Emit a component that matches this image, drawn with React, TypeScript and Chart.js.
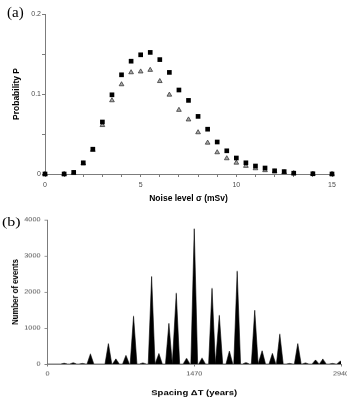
import React, { useEffect, useRef } from 'react';
import { Chart, registerables } from 'chart.js';

Chart.register(...registerables);

// Panel (a): probability of each noise level, two estimates
const noiseLevels = [0, 1, 1.5, 2, 2.5, 3, 3.5, 4, 4.5, 5, 5.5, 6, 6.5, 7, 7.5, 8, 8.5, 9, 9.5, 10, 10.5, 11, 11.5, 12, 12.5, 13, 14, 15];
const probSquares = [0, 0, 0.002, 0.014, 0.031, 0.065, 0.099, 0.124, 0.141, 0.149, 0.152, 0.143, 0.127, 0.105, 0.092, 0.072, 0.056, 0.04, 0.029, 0.02, 0.014, 0.01, 0.0075, 0.004, 0.003, 0.001, 0.0003, 0];
const probTriangles = [0, 0, 0.001, 0.013, 0.03, 0.061, 0.092, 0.112, 0.127, 0.128, 0.13, 0.116, 0.099, 0.08, 0.068, 0.052, 0.039, 0.027, 0.0195, 0.014, 0.01, 0.007, 0.0046, 0.003, 0.002, 0.001, 0.0002, 0];

// Panel (b): event-count spikes over the spacing ΔT
const peakSpacing = [167, 258, 350, 430, 610, 685, 786, 862, 955, 1043, 1116, 1216, 1290, 1393, 1470, 1548, 1648, 1721, 1822, 1900, 1988, 2076, 2150, 2253, 2327, 2425, 2507, 2584, 2685, 2758, 2855, 2933];
const peakEvents = [20, 35, 15, 280, 570, 140, 240, 1330, 30, 2430, 290, 1130, 1970, 160, 3760, 165, 2105, 1355, 360, 2580, 40, 1495, 370, 296, 833, 15, 570, 30, 115, 139, 15, 83];
const spikeHalfWidth = 34; // years either side of a peak where the count returns to zero

const spacingMax = 2940;
const spacingTicks = [0, 1470, 2940];

const sans = '"Liberation Sans", Arial, Helvetica, sans-serif';
const axisGray = '#7c7c7c';
const labelGray = '#4a4a4a';

function spikeOutline() {
  const pts: { x: number; y: number }[] = [{ x: 0, y: 0 }];
  peakSpacing.forEach((c, i) => {
    pts.push({ x: c - spikeHalfWidth, y: 0 });
    pts.push({ x: c, y: peakEvents[i] });
    pts.push({ x: c + spikeHalfWidth, y: 0 });
  });
  pts.push({ x: spacingMax, y: 0 });
  return pts;
}

function topConfig(): any {
  return {
    type: 'scatter',
    data: {
      datasets: [
        {
          label: 'squares',
          data: noiseLevels.map((x, i) => ({ x, y: probSquares[i] })),
          pointStyle: 'rect',
          pointRadius: 3.3,
          backgroundColor: '#000',
          borderColor: '#000',
          borderWidth: 0,
          clip: false,
          order: 0,
        },
        {
          label: 'triangles',
          data: noiseLevels.map((x, i) => ({ x, y: probTriangles[i] })),
          pointStyle: 'triangle',
          pointRadius: 2.7,
          backgroundColor: '#a8a8a8',
          borderColor: '#3a3a3a',
          borderWidth: 0.8,
          clip: false,
          order: 1,
        },
      ],
    },
    options: {
      animation: false,
      responsive: false,
      events: [],
      layout: { padding: { left: 0, top: 14, right: 15, bottom: 0 } },
      plugins: { legend: { display: false }, tooltip: { enabled: false } },
      scales: {
        x: {
          type: 'linear',
          min: 0,
          max: 15,
          afterFit: (s: any) => { s.height = 31; },
          ticks: {
            stepSize: 1,
            autoSkip: false,
            maxRotation: 0,
            padding: 4,
            color: labelGray,
            font: { family: sans, size: 7 },
            callback: (v: number) => (v % 5 === 0 ? String(v) : ''),
          },
          grid: { drawOnChartArea: false, tickLength: 3, color: axisGray },
          border: { color: axisGray, width: 1 },
          title: {
            display: true,
            text: 'Noise level σ (mSv)',
            color: '#000',
            font: { family: sans, size: 8.5, weight: 'bold' },
            padding: { top: 0, bottom: 1.6 },
          },
        },
        y: {
          type: 'linear',
          min: 0,
          max: 0.2,
          afterFit: (s: any) => { s.width = 45; },
          ticks: {
            stepSize: 0.05,
            autoSkip: false,
            padding: 1,
            color: labelGray,
            font: { family: sans, size: 7 },
            callback: (v: number) => {
              const r = Math.round(v * 100);
              return r % 10 === 0 ? String(r / 100) : '';
            },
          },
          grid: { drawOnChartArea: false, tickLength: 3, color: axisGray },
          border: { color: axisGray, width: 1 },
          title: {
            display: true,
            text: 'Probability P',
            color: '#000',
            font: { family: sans, size: 8.5, weight: 'bold' },
            padding: { top: 12, bottom: 0 },
          },
        },
      },
    },
  };
}

function bottomConfig(): any {
  return {
    type: 'scatter',
    data: {
      datasets: [
        {
          label: 'events',
          data: spikeOutline(),
          showLine: true,
          fill: 'origin',
          backgroundColor: '#000',
          borderColor: '#000',
          borderWidth: 0.6,
          pointRadius: 0,
          tension: 0,
        },
      ],
    },
    options: {
      animation: false,
      responsive: false,
      events: [],
      layout: { padding: { left: 0, top: 24.4, right: 19, bottom: 0 } },
      plugins: { legend: { display: false }, tooltip: { enabled: false } },
      scales: {
        x: {
          type: 'linear',
          min: 0,
          max: spacingMax,
          afterFit: (s: any) => { s.height = 42; },
          afterBuildTicks: (s: any) => { s.ticks = spacingTicks.map((value) => ({ value })); },
          ticks: {
            autoSkip: false,
            maxRotation: 0,
            padding: 5,
            color: labelGray,
            font: { family: sans, size: 7.3 },
            callback: (v: number) => String(v),
          },
          grid: { drawOnChartArea: false, tickLength: 3, color: axisGray },
          border: { color: axisGray, width: 1 },
          title: {
            display: true,
            text: 'Spacing ΔT (years)',
            color: '#000',
            font: { family: sans, size: 9.5, weight: 'bold' },
            padding: { top: 0, bottom: 1 },
          },
        },
        y: {
          type: 'linear',
          min: 0,
          max: 4000,
          afterFit: (s: any) => { s.width = 47.5; },
          ticks: {
            stepSize: 1000,
            autoSkip: false,
            padding: 4,
            color: labelGray,
            font: { family: sans, size: 7.3 },
            callback: (v: number) => String(v),
          },
          grid: { drawOnChartArea: false, tickLength: 3, color: axisGray },
          border: { color: axisGray, width: 1 },
          title: {
            display: true,
            text: 'Number of events',
            color: '#000',
            font: { family: sans, size: 9.5, weight: 'bold' },
            padding: { top: 9.8, bottom: 0 },
          },
        },
      },
    },
  };
}

export default function App() {
  const topRef = useRef<HTMLCanvasElement>(null);
  const bottomRef = useRef<HTMLCanvasElement>(null);

  useEffect(() => {
    const top = new Chart(topRef.current as HTMLCanvasElement, topConfig());
    const bottom = new Chart(bottomRef.current as HTMLCanvasElement, bottomConfig());
    return () => {
      top.destroy();
      bottom.destroy();
    };
  }, []);

  const panelLetter: React.CSSProperties = {
    position: 'absolute',
    fontFamily: '"Liberation Serif", "Times New Roman", serif',
    color: '#000',
    whiteSpace: 'nowrap',
  };

  return (
    <div style={{ position: 'fixed', left: 0, top: 0, width: 347, height: 398, overflow: 'hidden', background: '#fff' }}>
      <div style={{ position: 'absolute', left: 0, top: 0, width: 347, height: 205 }}>
        <canvas ref={topRef} width={347} height={205} style={{ display: 'block', width: 347, height: 205 }} />
        <span style={{ ...panelLetter, left: 7, top: 5, fontSize: 15, lineHeight: '15px' }}>(a)</span>
      </div>
      <div
        style={{
          position: 'absolute',
          left: 0,
          top: 200,
          width: 360,
          height: 242,
          transform: 'scaleY(0.82)',
          transformOrigin: '0 0',
        }}
      >
        <canvas ref={bottomRef} width={360} height={242} style={{ display: 'block', width: 360, height: 242 }} />
        <span style={{ ...panelLetter, left: 2, top: 19, fontSize: 16, lineHeight: '16px' }}>(b)</span>
      </div>
    </div>
  );
}
